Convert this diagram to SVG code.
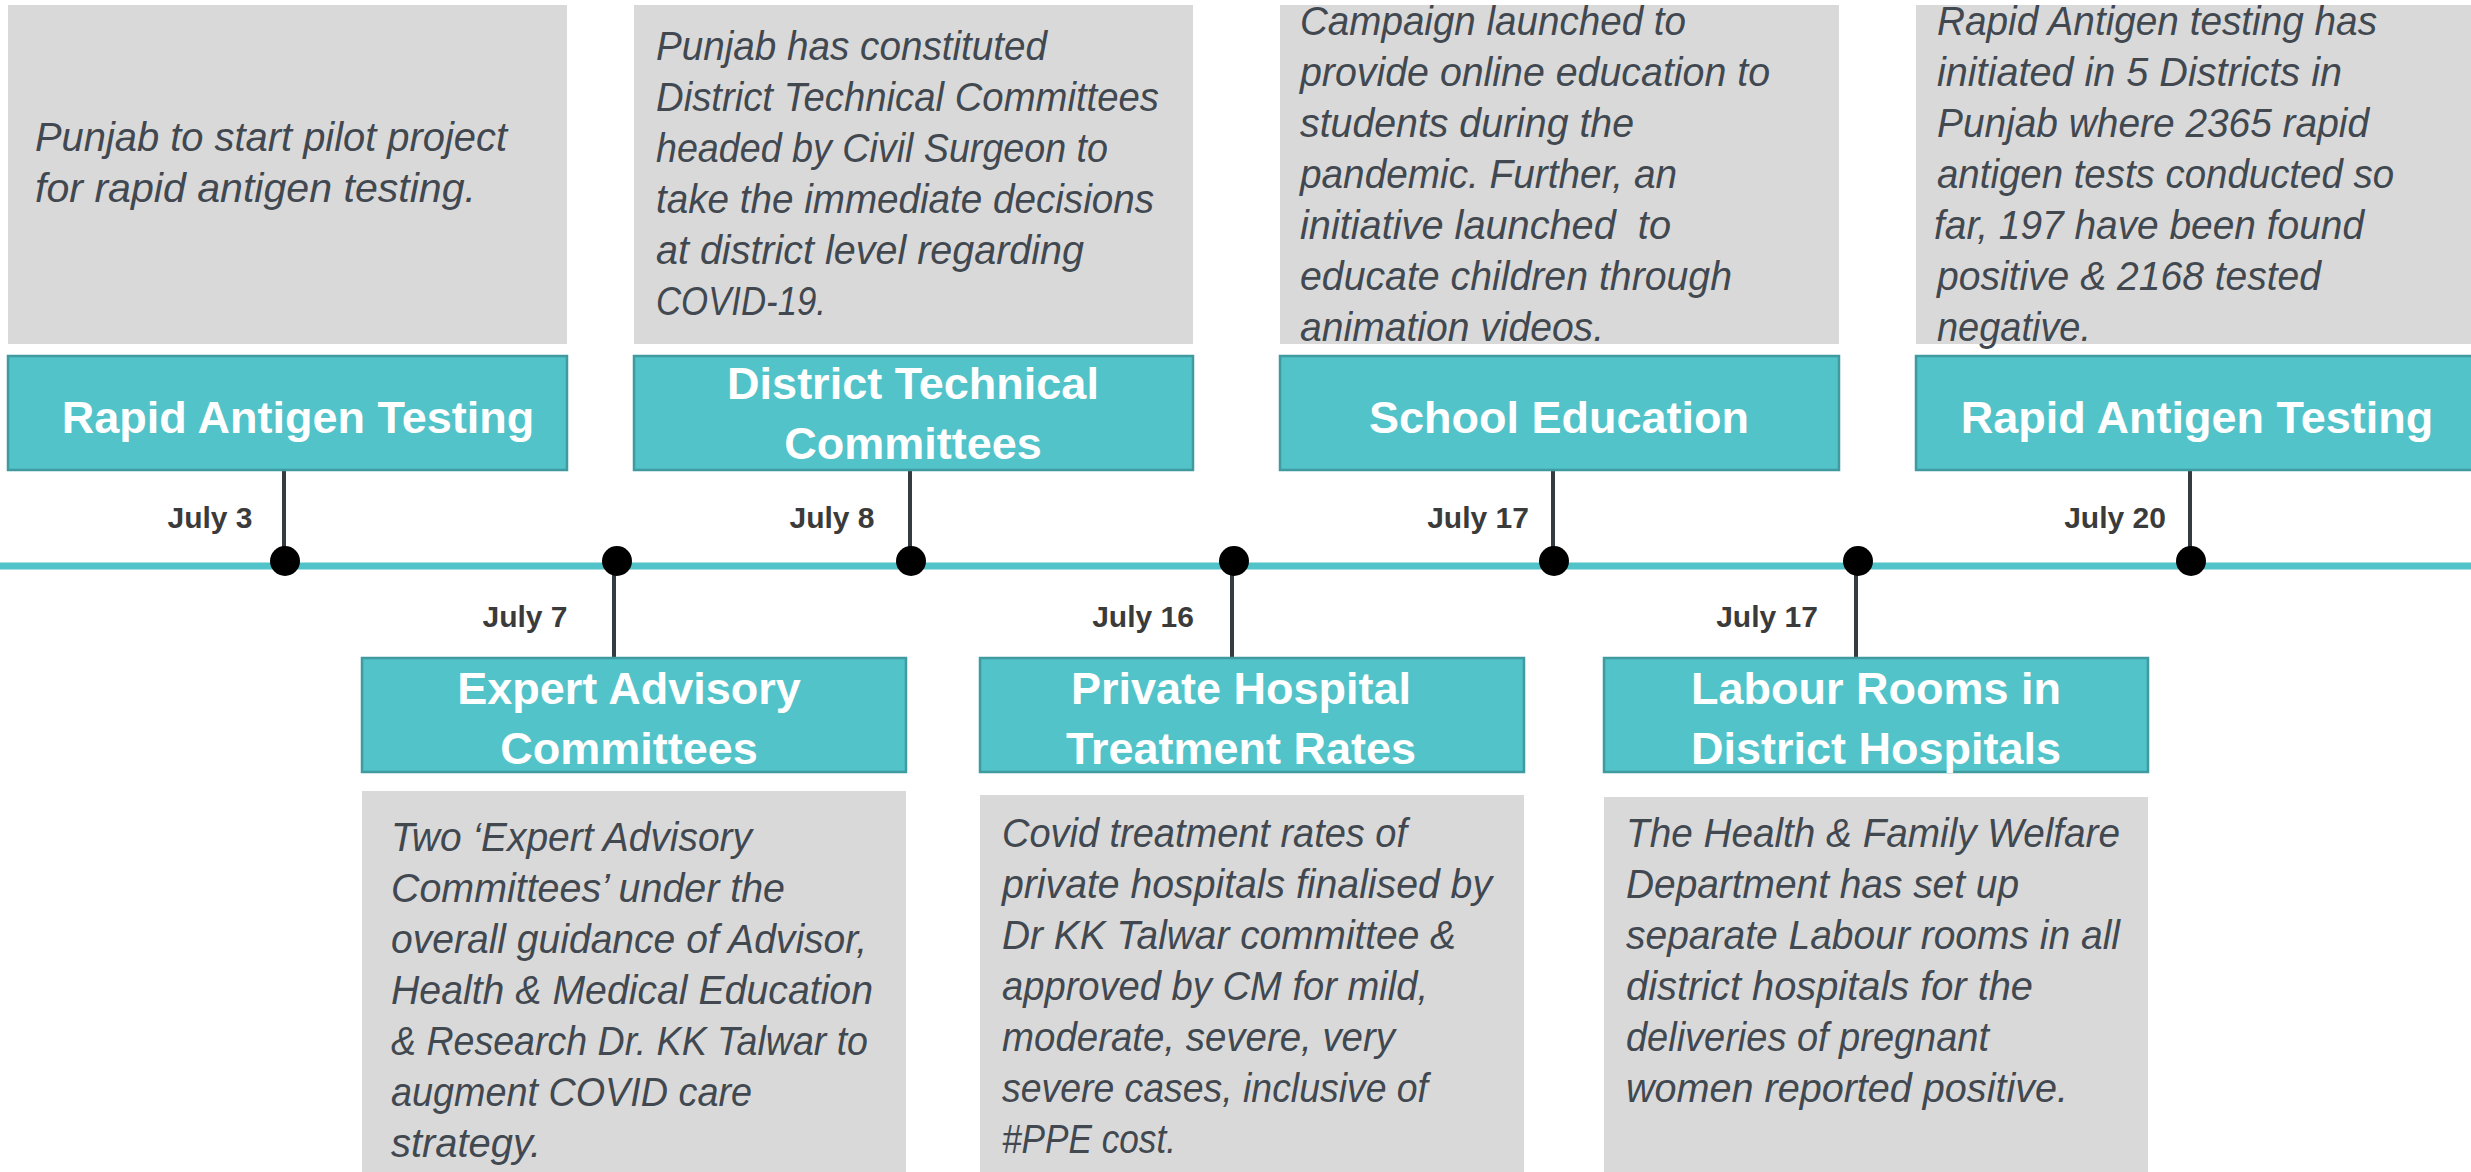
<svg xmlns="http://www.w3.org/2000/svg" width="2471" height="1172" viewBox="0 0 2471 1172">
<style>
.note{fill:#d9d9d9}
.head{fill:#52c3c9;stroke:#3f9ba0;stroke-width:2.5}
.ht{font-family:"Liberation Sans",Arial,sans-serif;font-weight:bold;font-size:45px;fill:#ffffff;text-anchor:middle}
.bt{font-family:"Liberation Sans",Arial,sans-serif;font-style:italic;font-size:40px;fill:#414850}
.dt{font-family:"Liberation Sans",Arial,sans-serif;font-weight:bold;font-size:30px;fill:#3b3b3b;text-anchor:middle}
.stem{stroke:#343c42;stroke-width:4}
.dot{fill:#000000}
</style>
<rect width="2471" height="1172" fill="#ffffff"/>
<g id="connectors">
<line x1="0" y1="566" x2="2471" y2="566" stroke="#52c3c9" stroke-width="7"/>
<line class="stem" x1="284" y1="470" x2="284" y2="561"/>
<line class="stem" x1="910" y1="470" x2="910" y2="561"/>
<line class="stem" x1="1553" y1="470" x2="1553" y2="561"/>
<line class="stem" x1="2190" y1="470" x2="2190" y2="561"/>
<line class="stem" x1="614" y1="561" x2="614" y2="658"/>
<line class="stem" x1="1232" y1="561" x2="1232" y2="658"/>
<line class="stem" x1="1856" y1="561" x2="1856" y2="658"/>
<circle class="dot" cx="285" cy="561" r="15"/>
<circle class="dot" cx="617" cy="561" r="15"/>
<circle class="dot" cx="911" cy="561" r="15"/>
<circle class="dot" cx="1234" cy="561" r="15"/>
<circle class="dot" cx="1554" cy="561" r="15"/>
<circle class="dot" cx="1858" cy="561" r="15"/>
<circle class="dot" cx="2191" cy="561" r="15"/>
</g>
<g id="event-july3">
<rect class="note" x="8" y="5" width="559" height="339"/>
<text class="bt" x="35" y="151" textLength="472" lengthAdjust="spacingAndGlyphs">Punjab to start pilot project</text>
<text class="bt" x="35" y="202" textLength="441" lengthAdjust="spacingAndGlyphs">for rapid antigen testing.</text>
<rect class="head" x="8" y="356" width="559" height="114"/>
<text class="ht" x="298" y="433">Rapid Antigen Testing</text>
<text class="dt" x="210" y="528">July 3</text>
</g>
<g id="event-july8">
<rect class="note" x="634" y="5" width="559" height="339"/>
<text class="bt" x="656" y="60" textLength="391" lengthAdjust="spacingAndGlyphs">Punjab has constituted</text>
<text class="bt" x="656" y="111" textLength="503" lengthAdjust="spacingAndGlyphs">District Technical Committees</text>
<text class="bt" x="656" y="162" textLength="452" lengthAdjust="spacingAndGlyphs">headed by Civil Surgeon to</text>
<text class="bt" x="656" y="213" textLength="498" lengthAdjust="spacingAndGlyphs">take the immediate decisions</text>
<text class="bt" x="656" y="264" textLength="428" lengthAdjust="spacingAndGlyphs">at district level regarding</text>
<text class="bt" x="656" y="315" textLength="170" lengthAdjust="spacingAndGlyphs">COVID-19.</text>
<rect class="head" x="634" y="356" width="559" height="114"/>
<text class="ht" x="913" y="399">District Technical</text>
<text class="ht" x="913" y="459">Committees</text>
<text class="dt" x="832" y="528">July 8</text>
</g>
<g id="event-july17-school">
<rect class="note" x="1280" y="5" width="559" height="339"/>
<text class="bt" x="1300" y="35" textLength="386" lengthAdjust="spacingAndGlyphs">Campaign launched to</text>
<text class="bt" x="1300" y="86" textLength="470" lengthAdjust="spacingAndGlyphs">provide online education to</text>
<text class="bt" x="1300" y="137" textLength="334" lengthAdjust="spacingAndGlyphs">students during the</text>
<text class="bt" x="1300" y="188" textLength="377" lengthAdjust="spacingAndGlyphs">pandemic. Further, an</text>
<text class="bt" x="1300" y="239" textLength="371" lengthAdjust="spacingAndGlyphs" xml:space="preserve">initiative launched  to</text>
<text class="bt" x="1300" y="290" textLength="432" lengthAdjust="spacingAndGlyphs">educate children through</text>
<text class="bt" x="1300" y="341" textLength="304" lengthAdjust="spacingAndGlyphs">animation videos.</text>
<rect class="head" x="1280" y="356" width="559" height="114"/>
<text class="ht" x="1559" y="433">School Education</text>
<text class="dt" x="1478" y="528">July 17</text>
</g>
<g id="event-july20">
<rect class="note" x="1916" y="5" width="600" height="339"/>
<text class="bt" x="1937" y="35" textLength="440" lengthAdjust="spacingAndGlyphs">Rapid Antigen testing has</text>
<text class="bt" x="1937" y="86" textLength="405" lengthAdjust="spacingAndGlyphs">initiated in 5 Districts in</text>
<text class="bt" x="1937" y="137" textLength="432" lengthAdjust="spacingAndGlyphs">Punjab where 2365 rapid</text>
<text class="bt" x="1937" y="188" textLength="457" lengthAdjust="spacingAndGlyphs">antigen tests conducted so</text>
<text class="bt" x="1934" y="239" textLength="430" lengthAdjust="spacingAndGlyphs">far, 197 have been found</text>
<text class="bt" x="1937" y="290" textLength="384" lengthAdjust="spacingAndGlyphs">positive &amp; 2168 tested</text>
<text class="bt" x="1937" y="341" textLength="154" lengthAdjust="spacingAndGlyphs">negative.</text>
<rect class="head" x="1916" y="356" width="600" height="114"/>
<text class="ht" x="2197" y="433">Rapid Antigen Testing</text>
<text class="dt" x="2115" y="528">July 20</text>
</g>
<g id="event-july7">
<text class="dt" x="525" y="627">July 7</text>
<rect class="head" x="362" y="658" width="544" height="114"/>
<text class="ht" x="629" y="704">Expert Advisory</text>
<text class="ht" x="629" y="764">Committees</text>
<rect class="note" x="362" y="791" width="544" height="390"/>
<text class="bt" x="391" y="851" textLength="361" lengthAdjust="spacingAndGlyphs">Two ‘Expert Advisory</text>
<text class="bt" x="391" y="902" textLength="394" lengthAdjust="spacingAndGlyphs">Committees’ under the</text>
<text class="bt" x="391" y="953" textLength="476" lengthAdjust="spacingAndGlyphs">overall guidance of Advisor,</text>
<text class="bt" x="391" y="1004" textLength="482" lengthAdjust="spacingAndGlyphs">Health &amp; Medical Education</text>
<text class="bt" x="391" y="1055" textLength="477" lengthAdjust="spacingAndGlyphs">&amp; Research Dr. KK Talwar to</text>
<text class="bt" x="391" y="1106" textLength="361" lengthAdjust="spacingAndGlyphs">augment COVID care</text>
<text class="bt" x="391" y="1157" textLength="150" lengthAdjust="spacingAndGlyphs">strategy.</text>
</g>
<g id="event-july16">
<text class="dt" x="1143" y="627">July 16</text>
<rect class="head" x="980" y="658" width="544" height="114"/>
<text class="ht" x="1241" y="704">Private Hospital</text>
<text class="ht" x="1241" y="764">Treatment Rates</text>
<rect class="note" x="980" y="795" width="544" height="390"/>
<text class="bt" x="1002" y="847" textLength="405" lengthAdjust="spacingAndGlyphs">Covid treatment rates of</text>
<text class="bt" x="1002" y="898" textLength="490" lengthAdjust="spacingAndGlyphs">private hospitals finalised by</text>
<text class="bt" x="1002" y="949" textLength="454" lengthAdjust="spacingAndGlyphs">Dr KK Talwar committee &amp;</text>
<text class="bt" x="1002" y="1000" textLength="426" lengthAdjust="spacingAndGlyphs">approved by CM for mild,</text>
<text class="bt" x="1002" y="1051" textLength="393" lengthAdjust="spacingAndGlyphs">moderate, severe, very</text>
<text class="bt" x="1002" y="1102" textLength="426" lengthAdjust="spacingAndGlyphs">severe cases, inclusive of</text>
<text class="bt" x="1002" y="1153" textLength="174" lengthAdjust="spacingAndGlyphs">#PPE cost.</text>
</g>
<g id="event-july17-labour">
<text class="dt" x="1767" y="627">July 17</text>
<rect class="head" x="1604" y="658" width="544" height="114"/>
<text class="ht" x="1876" y="704">Labour Rooms in</text>
<text class="ht" x="1876" y="764">District Hospitals</text>
<rect class="note" x="1604" y="797" width="544" height="390"/>
<text class="bt" x="1626" y="847" textLength="494" lengthAdjust="spacingAndGlyphs">The Health &amp; Family Welfare</text>
<text class="bt" x="1626" y="898" textLength="393" lengthAdjust="spacingAndGlyphs">Department has set up</text>
<text class="bt" x="1626" y="949" textLength="494" lengthAdjust="spacingAndGlyphs">separate Labour rooms in all</text>
<text class="bt" x="1626" y="1000" textLength="407" lengthAdjust="spacingAndGlyphs">district hospitals for the</text>
<text class="bt" x="1626" y="1051" textLength="363" lengthAdjust="spacingAndGlyphs">deliveries of pregnant</text>
<text class="bt" x="1626" y="1102" textLength="442" lengthAdjust="spacingAndGlyphs">women reported positive.</text>
</g>
</svg>
